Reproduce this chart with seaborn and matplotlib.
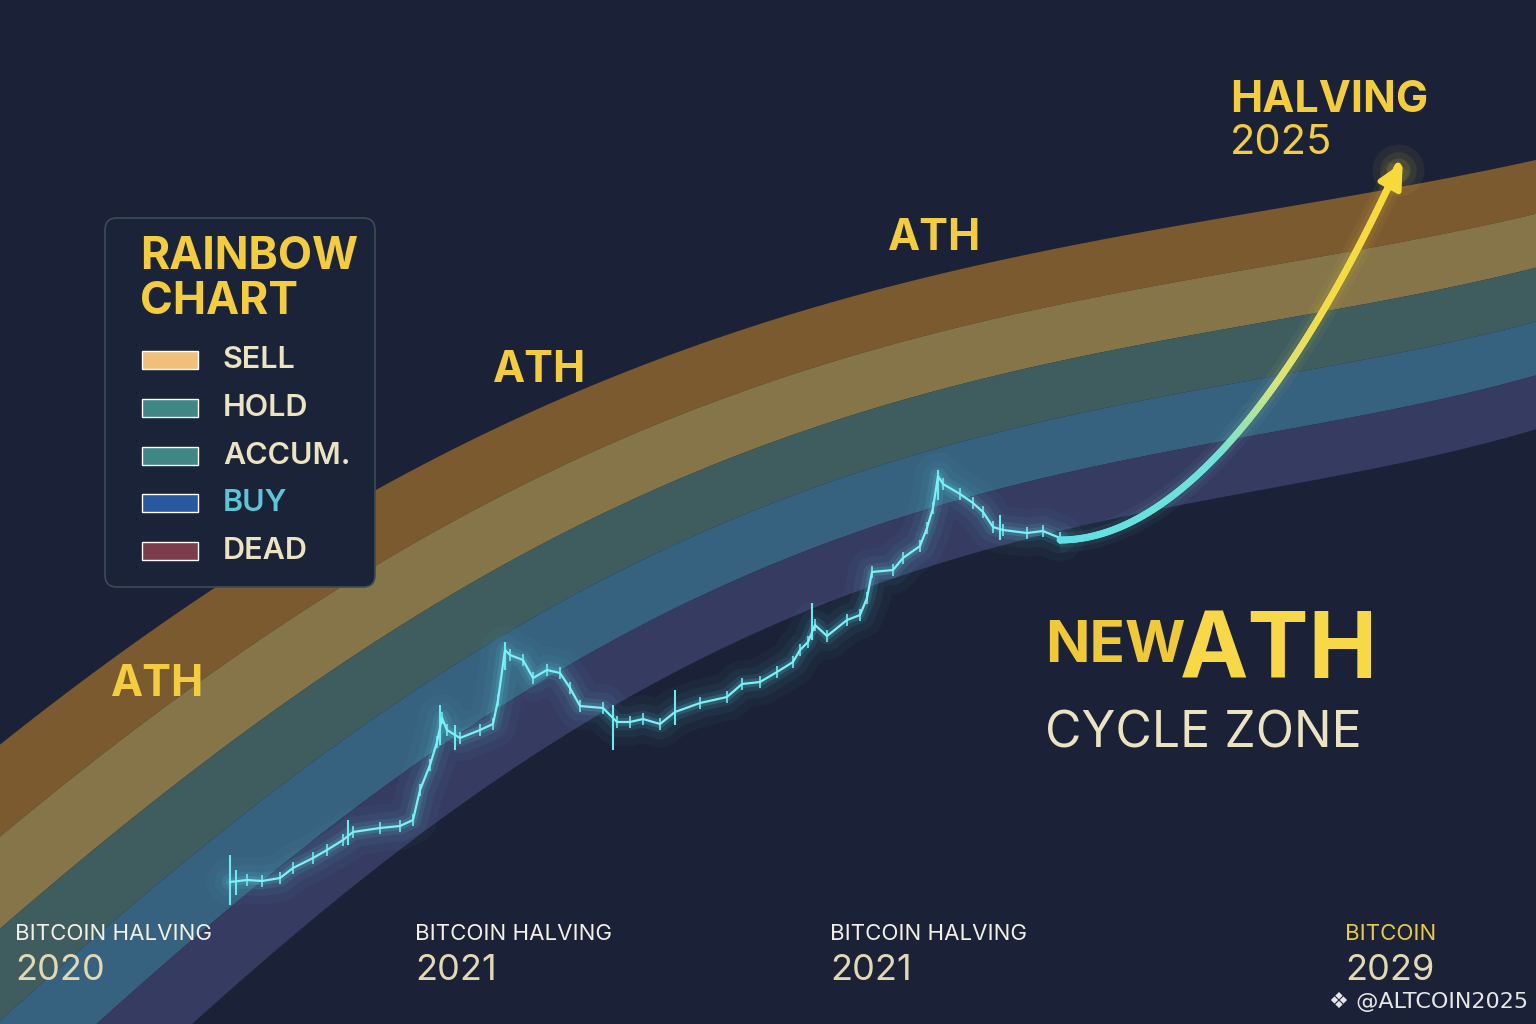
import numpy as np
import seaborn as sns
import matplotlib.pyplot as plt
from matplotlib.patches import FancyBboxPatch
from matplotlib.collections import LineCollection
from matplotlib.colors import LinearSegmentedColormap

# canvas units: x 0..1536 left->right, y 0..1024 top->bottom (same as the picture)

# rainbow band edges (top of SELL band, bottom of DEAD band)
edge_x = [0, 100, 200, 300, 400, 500, 600, 800, 1000, 1200, 1380, 1536]
edge_top = [740, 672, 603, 537, 472, 420, 380, 315, 267, 220, 185, 163]
edge_bottom = [1200, 1110, 1030, 930, 843, 770, 712, 618, 553, 500, 460, 433]
band_colors = ['#7c5a2f', '#857548', '#3f5d5f', '#36617f', '#363b62']

# legend
legend_names = ['SELL', 'HOLD', 'ACCUM.', 'BUY', 'DEAD']
legend_swatch = ['#f0c07a', '#3e8784', '#3e8784', '#28589e', '#7c3c4c']
legend_text_col = ['#ece3c2', '#ece3c2', '#ece3c2', '#5cc6d8', '#ece3c2']
legend_y = [360, 408, 456, 503, 551]

# price path (close values)
price_x = [230, 247, 262, 280, 293, 313, 327, 343, 353, 380, 400, 413, 420, 430, 437, 442,
           447, 460, 480, 493, 498, 505, 510, 523, 533, 547, 560, 570, 580, 603, 617, 630,
           643, 660, 675, 700, 727, 742, 760, 777, 793, 800, 808, 815, 827, 847, 860, 867,
           872, 893, 903, 920, 927, 933, 938, 943, 960, 973, 983, 993, 1003, 1027, 1043, 1060]
price_y = [882, 880, 881, 878, 868, 858, 850, 840, 832, 828, 826, 820, 790, 765, 742, 718,
           730, 738, 730, 724, 700, 650, 655, 660, 678, 670, 673, 688, 706, 708, 722, 722,
           719, 724, 712, 703, 697, 684, 682, 672, 662, 650, 642, 625, 636, 620, 615, 598,
           572, 570, 558, 546, 528, 508, 476, 484, 494, 503, 512, 527, 530, 533, 531, 538]
# long wicks (x, high, low)
wick_x = [230, 236, 348, 440, 455, 505, 613, 675, 812, 938, 1000]
wick_hi = [855, 870, 820, 705, 725, 642, 705, 690, 603, 470, 515]
wick_lo = [905, 895, 845, 745, 750, 670, 750, 725, 640, 500, 540]

# projection arrow control points
arrow_ctrl = [(1060, 540), (1180, 540), (1300, 380), (1398, 166)]

bottom_titles = ['BITCOIN HALVING', 'BITCOIN HALVING', 'BITCOIN HALVING', 'BITCOIN']
bottom_years = ['2020', '2021', '2021', '2029']
bottom_x = [15, 415, 830, 1345]
bottom_title_col = ['#f2efe6', '#f2efe6', '#f2efe6', '#e8c84a']

ath_labels = [(158, 685), (540, 370), (935, 238)]

BG = '#1b2237'
YEL = '#f3cd3f'
CREAM = '#ece3c2'

sns.set_theme(style='dark', rc={'axes.facecolor': BG, 'figure.facecolor': BG})
plt.rcParams['font.family'] = ['Inter', 'Lato', 'DejaVu Sans']

fig = plt.figure(figsize=(15.36, 10.24), dpi=100)
ax = fig.add_axes([0, 0, 1, 1])
ax.set_xlim(0, 1536)
ax.set_ylim(1024, 0)
ax.axis('off')

# rainbow bands
xs = np.linspace(0, 1536, 600)
top_fit = np.polyval(np.polyfit(np.array(edge_x) / 1536, edge_top, 4), xs / 1536)
bot_fit = np.polyval(np.polyfit(np.array(edge_x) / 1536, edge_bottom, 4), xs / 1536)
for i, c in enumerate(band_colors):
    y0 = top_fit + (bot_fit - top_fit) * i / 5
    y1 = top_fit + (bot_fit - top_fit) * (i + 1) / 5
    ax.fill_between(xs, y0, y1, color=c, lw=0, zorder=1)

# price line with glow
px = np.array(price_x)
py = np.array(price_y)
for lw, a in [(34, 0.035), (22, 0.05), (12, 0.09), (6, 0.16)]:
    sns.lineplot(x=px, y=py, sort=False, color='#5fe6f0', lw=lw, alpha=a, ax=ax, zorder=3)
ax.vlines(px, py - 6, py + 6, color='#6ee8f0', lw=1.2, zorder=4)
ax.vlines(wick_x, wick_hi, wick_lo, color='#6ee8f0', lw=1.5, zorder=4)
sns.lineplot(x=px, y=py, sort=False, color='#7ff0f5', lw=1.6, ax=ax, zorder=5)

# projection arrow (gradient)
P = np.array(arrow_ctrl, dtype=float)
t = np.linspace(0, 1, 200)[:, None]
curve = ((1 - t) ** 3) * P[0] + 3 * ((1 - t) ** 2) * t * P[1] + 3 * (1 - t) * t ** 2 * P[2] + t ** 3 * P[3]
segs = np.stack([curve[:-1], curve[1:]], axis=1)
cmap = LinearSegmentedColormap.from_list('arr', [(0, '#5ee0e6'), (0.45, '#72e2d6'),
                                                 (0.62, '#d6e57c'), (0.75, '#f3dc48'), (1, '#f7d93c')])
for lw, a in [(18, 0.05), (11, 0.08)]:
    ax.add_collection(LineCollection(segs, colors=cmap(t[:-1, 0]), linewidths=lw, alpha=a, zorder=5))
ax.add_collection(LineCollection(segs, colors=cmap(t[:-1, 0]), linewidths=5, zorder=6, capstyle='round'))
for s, a in [(1400, 0.06), (700, 0.08), (300, 0.12)]:
    ax.scatter([P[3][0]], [P[3][1] + 4], s=s, color='#f7d93c', alpha=a, lw=0, zorder=5)
ax.annotate('', xy=(P[3][0] + 6, P[3][1] - 6), xytext=tuple(curve[-12]),
            arrowprops=dict(arrowstyle='-|>', color='#f7d93c', lw=4, mutation_scale=38), zorder=7)

# legend box
ax.add_patch(FancyBboxPatch((105, 218), 270, 369, boxstyle='round,pad=0,rounding_size=12',
                            fc='#1b2338', ec='#3c4c54', lw=1.2, zorder=8))
ax.text(140, 257, 'RAINBOW', color=YEL, fontsize=32, fontweight='bold', va='center', zorder=9)
ax.text(140, 302, 'CHART', color=YEL, fontsize=32, fontweight='bold', va='center', zorder=9)
ax.barh(legend_y, [56] * 5, left=142, height=18, color=legend_swatch, zorder=9)
for name, y, col in zip(legend_names, legend_y, legend_text_col):
    ax.text(223, y, name, color=col, fontsize=22, fontweight='semibold', va='center', zorder=9)

# ATH labels
for x, y in ath_labels:
    ax.text(x, y, 'ATH', color=YEL, fontsize=31, fontweight='bold', ha='center', va='center', zorder=9)

ax.text(1230, 100, 'HALVING', color=YEL, fontsize=31, fontweight='bold', va='center', zorder=9)
ax.text(1230, 143, '2025', color=YEL, fontsize=30, va='center', zorder=9)

ax.text(1045, 662, 'NEW', color='#f0c93a', fontsize=42, fontweight='bold', va='baseline', zorder=9)
ax.text(1180, 678, 'ATH', color='#f6d848', fontsize=66, fontweight='bold', va='baseline', zorder=9)
ax.text(1045, 747, 'CYCLE ZONE', color=CREAM, fontsize=36, va='baseline', zorder=9)

for title, year, x, col in zip(bottom_titles, bottom_years, bottom_x, bottom_title_col):
    ax.text(x, 940, title, color=col, fontsize=16, va='baseline', zorder=9)
    ax.text(x, 980, year, color='#e2d8b2', fontsize=26, va='baseline', zorder=9)

ax.text(1528, 1008, '❖ @ALTCOIN2025', color='#e6e6e6', fontsize=16, ha='right', va='baseline',
        family=['DejaVu Sans'], zorder=9)

fig.savefig('out.png', dpi=100, facecolor=BG)
